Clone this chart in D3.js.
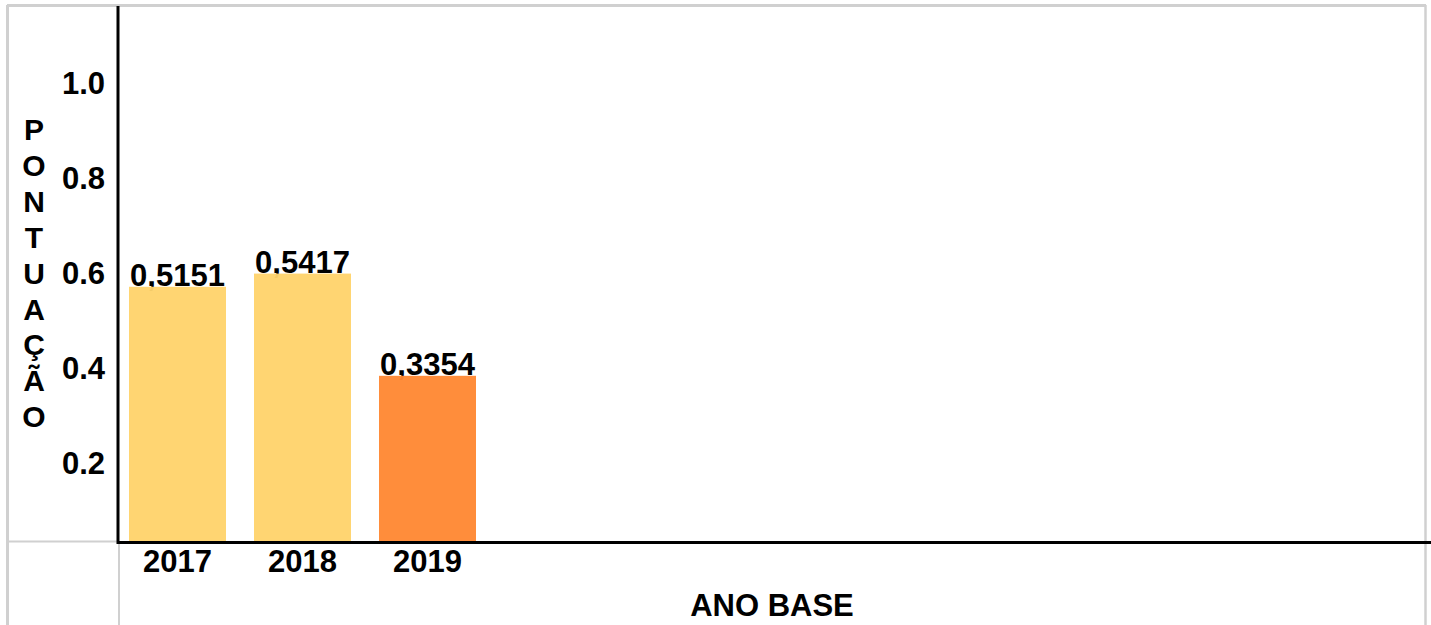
<!DOCTYPE html>
<html>
<head>
<meta charset="utf-8">
<script src="https://cdn.jsdelivr.net/npm/d3@7"></script>
<style>
  body { margin: 0; background: #fff; }
  text { font-family: "Liberation Sans", Arial, sans-serif; font-weight: bold; fill: #000; }
</style>
</head>
<body>
<svg width="1431" height="625"></svg>
<script>
// data
const years = ["2017", "2018", "2019"];
const values = [0.5151, 0.5417, 0.3354];
const labels = ["0,5151", "0,5417", "0,3354"];
const barColors = ["#ffd36c", "#ffd36c", "#ff8833"];
const tickValues = [0.2, 0.4, 0.6, 0.8, 1.0];
const yTitle = "PONTUAÇÃO";
const xTitle = "ANO BASE";

const svg = d3.select("svg");
const width = 1431;
const height = 625;
const fontSize = 31;

// spreadsheet-like gray frame
const frame = svg.append("g")
    .attr("stroke", "#d0d0d0")
    .attr("fill", "none");
frame.append("line").attr("x1", 7).attr("y1", 5.5).attr("x2", 1426).attr("y2", 5.5).attr("stroke-width", 3);
frame.append("line").attr("x1", 7.5).attr("y1", 5).attr("x2", 7.5).attr("y2", height).attr("stroke-width", 3);
frame.append("line").attr("x1", 1425.5).attr("y1", 5).attr("x2", 1425.5).attr("y2", height).attr("stroke-width", 2.5);
frame.append("line").attr("x1", 7).attr("y1", 541.5).attr("x2", 118).attr("y2", 541.5).attr("stroke-width", 2);
frame.append("line").attr("x1", 119).attr("y1", 542).attr("x2", 119).attr("y2", height).attr("stroke-width", 2);

// scales
const xScale = d3.scaleBand()
    .domain(years)
    .range([115, 490])
    .paddingInner(0.224)
    .paddingOuter(0.112);

// bar scale
const yScale = d3.scaleLinear()
    .domain([0, 1])
    .range([542, 46.5]);

// tick label scale (labels sit on their own spacing in the reference)
const tickScale = d3.scaleLinear()
    .domain([0, 1])
    .range([558, 84]);

// y tick labels
const yAxis = d3.axisLeft(tickScale)
    .tickValues(tickValues)
    .tickFormat(d3.format(".1f"))
    .tickSize(0)
    .tickPadding(0);

const yAxisG = svg.append("g")
    .attr("transform", "translate(105,0)")
    .call(yAxis);
yAxisG.select(".domain").remove();
yAxisG.selectAll("text")
    .style("font-family", "'Liberation Sans', Arial, sans-serif")
    .style("font-weight", "bold")
    .style("font-size", fontSize + "px")
    .attr("fill", "#000");

// value labels (drawn under the bars like the reference)
svg.selectAll(".val")
    .data(values)
    .enter()
    .append("text")
    .attr("class", "val")
    .attr("x", function(d, i) { return xScale(years[i]) + xScale.bandwidth() / 2; })
    .attr("y", function(d) { return yScale(d) - 1; })
    .attr("text-anchor", "middle")
    .style("font-size", fontSize + "px")
    .text(function(d, i) { return labels[i]; });

// bars
svg.selectAll(".bar")
    .data(values)
    .enter()
    .append("rect")
    .attr("class", "bar")
    .attr("x", function(d, i) { return xScale(years[i]); })
    .attr("y", function(d) { return yScale(d); })
    .attr("width", xScale.bandwidth())
    .attr("height", function(d) { return yScale(0) - yScale(d); })
    .attr("fill", function(d, i) { return barColors[i]; })
    .attr("fill-opacity", 0.96);

// x axis labels
const xAxis = d3.axisBottom(xScale)
    .tickSize(0)
    .tickPadding(0);

const xAxisG = svg.append("g")
    .attr("transform", "translate(0,542)")
    .call(xAxis);
xAxisG.select(".domain").remove();
xAxisG.selectAll("text")
    .attr("dy", null)
    .attr("y", 30)
    .style("font-family", "'Liberation Sans', Arial, sans-serif")
    .style("font-weight", "bold")
    .style("font-size", fontSize + "px")
    .attr("fill", "#000");

// black axis lines
svg.append("line")
    .attr("x1", 118).attr("y1", 6)
    .attr("x2", 118).attr("y2", 544)
    .attr("stroke", "#000").attr("stroke-width", 3);
svg.append("line")
    .attr("x1", 117).attr("y1", 542.5)
    .attr("x2", width).attr("y2", 542.5)
    .attr("stroke", "#000").attr("stroke-width", 3);

// x title
svg.append("text")
    .attr("x", 772)
    .attr("y", 616)
    .attr("text-anchor", "middle")
    .style("font-size", fontSize + "px")
    .text(xTitle);

// y title, one letter per line
const yt = svg.append("text")
    .attr("text-anchor", "middle")
    .style("font-size", "30px");
yt.selectAll("tspan")
    .data(yTitle.split(""))
    .enter()
    .append("tspan")
    .attr("x", 34)
    .attr("y", function(d, i) { return 140 + i * 35.9; })
    .text(function(d) { return d; });
</script>
</body>
</html>
